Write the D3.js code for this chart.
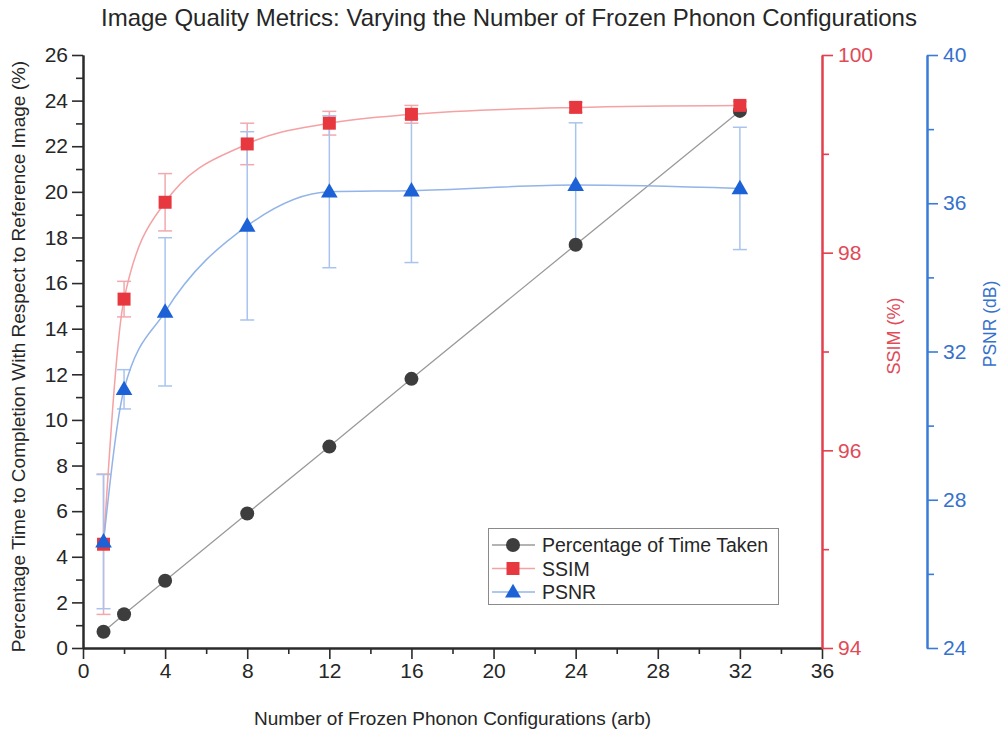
<!DOCTYPE html>
<html>
<head>
<meta charset="utf-8">
<script src="https://cdn.jsdelivr.net/npm/d3@7"></script>
<style>
  html, body { margin: 0; padding: 0; background: #fff; }
  svg { display: block; }
  text { font-family: "Liberation Sans", Arial, sans-serif; }
</style>
</head>
<body>
<svg id="chart" width="1001" height="733"></svg>
<script>
// Frozen phonon configuration counts (x values)
const configs = [1, 2, 4, 8, 12, 16, 24, 32];
// Percentage of time to completion relative to the reference image (%)
const timePct = [0.71, 1.48, 2.95, 5.9, 8.83, 11.8, 17.68, 23.55];
// SSIM (%) and its error
const ssim = [95.05, 97.53, 98.51, 99.10, 99.31, 99.40, 99.47, 99.49];
const ssimErr = [0.71, 0.18, 0.29, 0.21, 0.12, 0.09, 0.05, 0.04];
// PSNR (dB) and its error
const psnr = [26.87, 30.98, 33.07, 35.39, 36.31, 36.34, 36.49, 36.40];
const psnrErr = [1.81, 0.53, 2.0, 2.54, 2.05, 1.94, 1.68, 1.65];

// Tick values
const xTicks = [0, 4, 8, 12, 16, 20, 24, 28, 32, 36];
const yLeftTicks = [0, 2, 4, 6, 8, 10, 12, 14, 16, 18, 20, 22, 24, 26];
const ssimTicks = [94, 96, 98, 100];
const psnrTicks = [24, 28, 32, 36, 40];

const seriesNames = ["Percentage of Time Taken", "SSIM", "PSNR"];

const svg = d3.select("#chart");
const plot = { left: 83, right: 822, top: 55, bottom: 648 };
const psnrAxisX = 927;

const col = {
  axis: "#2b2b2b", text: "#262626",
  timeMark: "#3d3d3d", timeLine: "#9a9a9a",
  ssimMark: "#e8383f", ssimLine: "#f4a2a4", ssimErr: "#f2a9ae", ssimAxis: "#e3404d", ssimText: "#e14a57",
  psnrMark: "#1d61d6", psnrLine: "#92b4e8", psnrErr: "#a8c4ee", psnrAxis: "#3a7bd6", psnrText: "#3571cc"
};

const x = d3.scaleLinear().domain([0, 36]).range([plot.left, plot.right]);
const yL = d3.scaleLinear().domain([0, 26]).range([plot.bottom, plot.top]);
const yS = d3.scaleLinear().domain([94, 100]).range([plot.bottom, plot.top]);
const yP = d3.scaleLinear().domain([24, 40]).range([plot.bottom, plot.top]);

// Title
svg.append("text")
  .attr("x", 509).attr("y", 26)
  .attr("text-anchor", "middle")
  .attr("font-size", 24)
  .attr("fill", col.text)
  .text("Image Quality Metrics: Varying the Number of Frozen Phonon Configurations");

// ----- Axes -----
const tickFont = 21;
function styleAxis(g, color) {
  g.select(".domain").attr("stroke", color).attr("stroke-width", 2);
  g.selectAll(".tick line").attr("stroke", color).attr("stroke-width", 1.6);
  g.selectAll(".tick text").attr("fill", color).attr("font-size", tickFont)
    .attr("font-family", '"Liberation Sans", Arial, sans-serif');
}

// minor ticks helper
function minor(axisGen, vals) { return axisGen.tickValues(vals).tickFormat("").tickSizeOuter(0); }

// bottom axis
const gxMinor = svg.append("g").attr("transform", `translate(0,${plot.bottom})`)
  .call(minor(d3.axisBottom(x).tickSizeInner(6), d3.range(2, 36, 4)));
styleAxis(gxMinor, col.axis);
const gx = svg.append("g").attr("transform", `translate(0,${plot.bottom})`)
  .call(d3.axisBottom(x).tickValues(xTicks).tickSizeInner(11).tickSizeOuter(0).tickPadding(4));
styleAxis(gx, col.axis);
gx.selectAll(".tick text").attr("fill", col.text);

// left axis
const gyMinor = svg.append("g").attr("transform", `translate(${plot.left},0)`)
  .call(minor(d3.axisLeft(yL).tickSizeInner(7), d3.range(1, 26, 2)));
styleAxis(gyMinor, col.axis);
const gy = svg.append("g").attr("transform", `translate(${plot.left},0)`)
  .call(d3.axisLeft(yL).tickValues(yLeftTicks).tickSizeInner(11).tickSizeOuter(0).tickPadding(4));
styleAxis(gy, col.axis);
gy.selectAll(".tick text").attr("fill", col.text);

// SSIM axis (right)
const gsMinor = svg.append("g").attr("transform", `translate(${plot.right},0)`)
  .call(minor(d3.axisRight(yS).tickSizeInner(7), [95, 97, 99]));
styleAxis(gsMinor, col.ssimAxis);
const gs = svg.append("g").attr("transform", `translate(${plot.right},0)`)
  .call(d3.axisRight(yS).tickValues(ssimTicks).tickFormat(d3.format("d"))
    .tickSizeInner(11).tickSizeOuter(0).tickPadding(5));
styleAxis(gs, col.ssimAxis);
gs.selectAll(".tick text").attr("fill", col.ssimText);

// PSNR axis (far right)
const gpMinor = svg.append("g").attr("transform", `translate(${psnrAxisX},0)`)
  .call(minor(d3.axisRight(yP).tickSizeInner(7), [26, 30, 34, 38]));
styleAxis(gpMinor, col.psnrAxis);
const gp = svg.append("g").attr("transform", `translate(${psnrAxisX},0)`)
  .call(d3.axisRight(yP).tickValues(psnrTicks).tickFormat(d3.format("d"))
    .tickSizeInner(11).tickSizeOuter(0).tickPadding(5));
styleAxis(gp, col.psnrAxis);
gp.selectAll(".tick text").attr("fill", col.psnrText);

// Axis titles
svg.append("text")
  .attr("x", (plot.left + plot.right) / 2).attr("y", 725)
  .attr("text-anchor", "middle").attr("font-size", 19).attr("fill", col.text)
  .text("Number of Frozen Phonon Configurations (arb)");

svg.append("text")
  .attr("transform", `translate(25,${(plot.top + plot.bottom) / 2 + 5}) rotate(-90)`)
  .attr("text-anchor", "middle").attr("font-size", 19).attr("fill", col.text)
  .text("Percentage Time to Completion With Respect to Reference Image (%)");

svg.append("text")
  .attr("transform", `translate(900,336) rotate(-90)`)
  .attr("text-anchor", "middle").attr("font-size", 18).attr("fill", col.ssimText)
  .text("SSIM (%)");

svg.append("text")
  .attr("transform", `translate(996,324) rotate(-90)`)
  .attr("text-anchor", "middle").attr("font-size", 17.5).attr("fill", col.psnrText)
  .text("PSNR (dB)");

// ----- Data -----
const data = d3.range(configs.length).map(i => ({
  c: configs[i], t: timePct[i], s: ssim[i], se: ssimErr[i], p: psnr[i], pe: psnrErr[i]
}));

const plotG = svg.append("g");
const capHalf = 7;

// error bars
function errorBars(g, yScale, key, errKey, color) {
  const eb = g.append("g").attr("stroke", color).attr("stroke-width", 1.5).attr("fill", "none");
  data.forEach(d => {
    const cx = x(d.c), y0 = yScale(d[key] - d[errKey]), y1 = yScale(d[key] + d[errKey]);
    eb.append("line").attr("x1", cx).attr("x2", cx).attr("y1", y0).attr("y2", y1);
    eb.append("line").attr("x1", cx - capHalf).attr("x2", cx + capHalf).attr("y1", y0).attr("y2", y0);
    eb.append("line").attr("x1", cx - capHalf).attr("x2", cx + capHalf).attr("y1", y1).attr("y2", y1);
  });
}
errorBars(plotG, yS, "s", "se", col.ssimErr);
errorBars(plotG, yP, "p", "pe", col.psnrErr);

// lines
plotG.append("path").datum(data)
  .attr("fill", "none").attr("stroke", col.timeLine).attr("stroke-width", 1.3)
  .attr("d", d3.line().x(d => x(d.c)).y(d => yL(d.t)));
plotG.append("path").datum(data)
  .attr("fill", "none").attr("stroke", col.ssimLine).attr("stroke-width", 1.5)
  .attr("d", d3.line().curve(d3.curveMonotoneX).x(d => x(d.c)).y(d => yS(d.s)));
plotG.append("path").datum(data)
  .attr("fill", "none").attr("stroke", col.psnrLine).attr("stroke-width", 1.5)
  .attr("d", d3.line().curve(d3.curveMonotoneX).x(d => x(d.c)).y(d => yP(d.p)));

// markers
const circ = d3.symbol().type(d3.symbolCircle).size(Math.PI * 7 * 7);
const sq = d3.symbol().type(d3.symbolSquare).size(13 * 13);
const tri = d3.symbol().type(d3.symbolTriangle).size(120);

plotG.append("g").selectAll("path").data(data).join("path")
  .attr("d", circ).attr("fill", col.timeMark)
  .attr("transform", d => `translate(${x(d.c)},${yL(d.t)})`);
plotG.append("g").selectAll("path").data(data).join("path")
  .attr("d", sq).attr("fill", col.ssimMark)
  .attr("transform", d => `translate(${x(d.c)},${yS(d.s)})`);
plotG.append("g").selectAll("path").data(data).join("path")
  .attr("d", tri).attr("fill", col.psnrMark)
  .attr("transform", d => `translate(${x(d.c)},${yP(d.p) + 1})`);

// ----- Legend -----
const lg = svg.append("g");
lg.append("rect").attr("x", 488.5).attr("y", 528.5).attr("width", 290).attr("height", 76)
  .attr("fill", "#fff").attr("stroke", "#8a8a8a").attr("stroke-width", 1);
const legendItems = [
  { name: seriesNames[0], line: col.timeLine, mark: col.timeMark, sym: circ, dy: 0 },
  { name: seriesNames[1], line: col.ssimLine, mark: col.ssimMark, sym: sq, dy: 0 },
  { name: seriesNames[2], line: col.psnrLine, mark: col.psnrMark, sym: d3.symbol().type(d3.symbolTriangle).size(110), dy: 1 }
];
legendItems.forEach((it, i) => {
  const cy = 545 + i * 23.5;
  lg.append("line").attr("x1", 492).attr("x2", 535).attr("y1", cy).attr("y2", cy)
    .attr("stroke", it.line).attr("stroke-width", 1.5);
  lg.append("path").attr("d", it.sym).attr("fill", it.mark)
    .attr("transform", `translate(513,${cy + it.dy})`);
  lg.append("text").attr("x", 542).attr("y", cy + 7).attr("font-size", 19.5).attr("fill", col.text)
    .text(it.name);
});
</script>
</body>
</html>
